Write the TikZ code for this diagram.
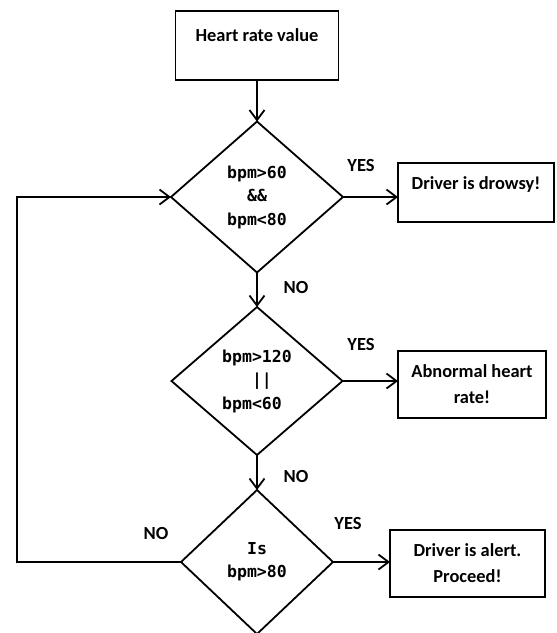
\documentclass[tikz,border=0pt]{standalone}
\usepackage{fontspec}
\setmainfont{Carlito}
\newfontfamily\monofont{DejaVu Sans Mono}
\usetikzlibrary{shapes.geometric,arrows.meta}
\begin{document}
\begin{tikzpicture}[x=1pt,y=-1pt, line width=1.8pt,
 box/.style={draw, rectangle, inner sep=0pt, outer sep=0pt, font=\bfseries\fontsize{18.4}{26}\selectfont, align=center},
 dec/.style={draw, diamond, inner sep=0pt, outer sep=0pt, font=\monofont\bfseries\fontsize{16.5}{23.5}\selectfont},
 lbl/.style={font=\bfseries\fontsize{18.5}{20}\selectfont, inner sep=0pt},
 arr/.style={-{Straight Barb[length=10pt,width=15pt]}},
]
\useasboundingbox (0,0) rectangle (557,633);

\node[box, minimum width=163pt, minimum height=69pt] (start) at (257,45.5) {\raisebox{4.5pt}[0pt][0pt]{Heart rate value}};

\node[dec, align=center, minimum width=172pt, minimum height=151pt] (d1) at (257,197) {bpm>60\\\&\&\\bpm<80};
\node[dec, align=left, minimum width=171pt, minimum height=148pt] (d2) at (257,381) {bpm>120\\\phantom{bpm}||\\bpm<60};
\node[dec, align=center, minimum width=152pt, minimum height=144pt] (d3) at (257,562) {\raisebox{4pt}{Is}\\\raisebox{4pt}{bpm>80}};

\node[box, minimum width=156pt, minimum height=59pt] (drowsy) at (476,192.5) {\raisebox{3.5pt}[0pt][0pt]{Driver is drowsy!}};
\node[box, minimum width=148pt, minimum height=67pt] (abn) at (472,384.5) {Abnormal heart\\rate!};
\node[box, minimum width=155pt, minimum height=67pt] (alert) at (467.5,563.5) {Driver is alert.\\Proceed!};

\coordinate (loop) at (17,0);

\draw[arr] (start.south) -- (d1.north);
\draw[arr] (d1.east) -- (d1.east -| drowsy.west);
\draw[arr] (d1.south) -- (d2.north);
\draw[arr] (d2.east) -- (d2.east -| abn.west);
\draw[arr] (d2.south) -- (d3.north);
\draw[arr] (d3.east) -- (d3.east -| alert.west);
\draw[arr] (d3.west) -- (d3.west -| loop) |- (d1.west);

\node[lbl] (y1) at (361,165) {YES};
\node[lbl] (n1) at (296,287) {NO};
\node[lbl] (y2) at (361,344) {YES};
\node[lbl] (n2) at (296,476) {NO};
\node[lbl] (y3) at (348,523) {YES};
\node[lbl] (n3) at (156,533) {NO};
\end{tikzpicture}
\end{document}
